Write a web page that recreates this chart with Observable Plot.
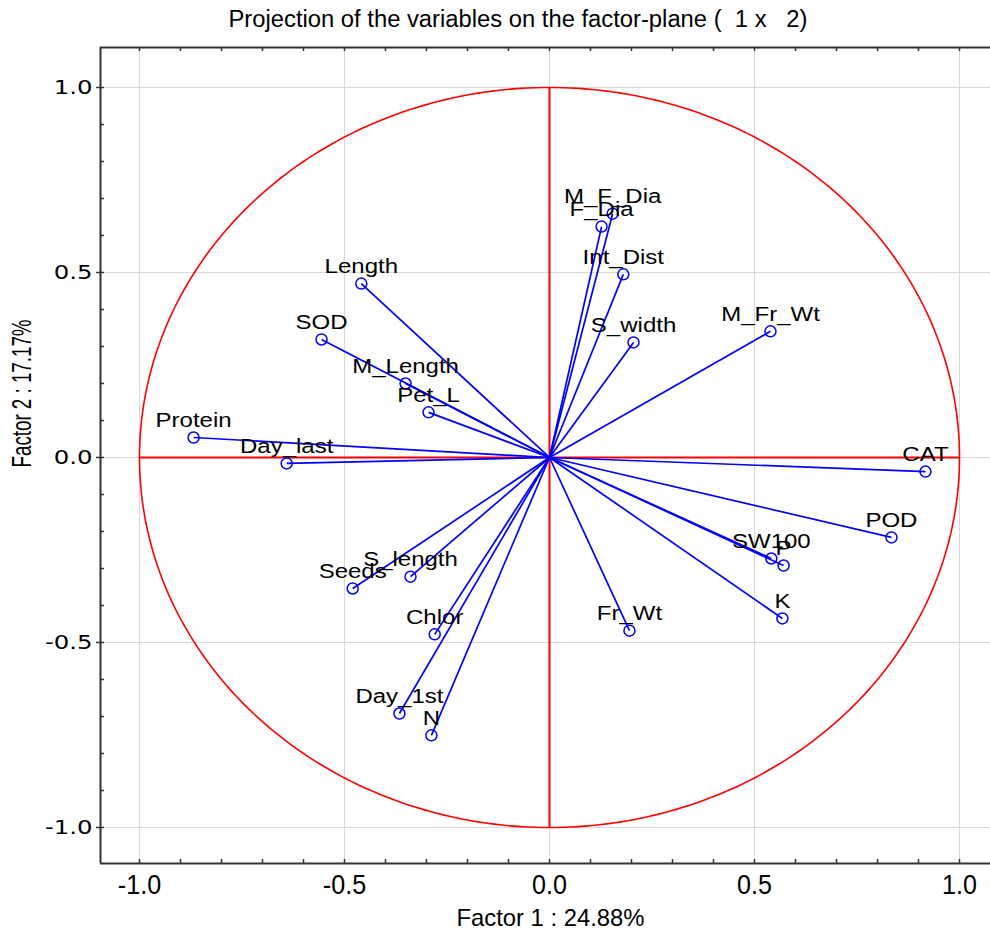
<!DOCTYPE html>
<html><head><meta charset="utf-8">
<script src="https://cdn.jsdelivr.net/npm/d3@7"></script>
<script src="https://cdn.jsdelivr.net/npm/@observablehq/plot@0.6"></script>
<style>
html,body{margin:0;padding:0;background:#fff;overflow:hidden;}
svg{display:block;}
</style></head><body>
<svg id="title" width="990" height="40"></svg>
<div id="chart"></div>
<script>
// ---- data ----
const variables = ["Protein","Day_last","Length","SOD","M_Length","Pet_L","M_F_Dia","F_Dia","Int_Dist","S_width","M_Fr_Wt","CAT","POD","SW100","P","K","Fr_Wt","S_length","Seeds","Chlor","Day_1st","N"];
const factor1 = [-0.868,-0.641,-0.459,-0.556,-0.351,-0.295,0.154,0.127,0.180,0.205,0.539,0.917,0.834,0.541,0.571,0.568,0.195,-0.339,-0.480,-0.280,-0.366,-0.288];
const factor2 = [0.054,-0.016,0.470,0.319,0.200,0.122,0.659,0.624,0.495,0.311,0.341,-0.038,-0.216,-0.273,-0.292,-0.435,-0.468,-0.322,-0.354,-0.478,-0.692,-0.751];
const majorTicks = [-1.0,-0.5,0.0,0.5,1.0];
const majorTickLabels = ["-1.0","-0.5","0.0","0.5","1.0"];
const minorTicks = [-1.0,-0.9,-0.8,-0.7,-0.6,-0.5,-0.4,-0.3,-0.2,-0.1,0.0,0.1,0.2,0.3,0.4,0.5,0.6,0.7,0.8,0.9,1.0];
const titleText = "Projection of the variables on the factor-plane (  1 x   2)";
const xLabel = "Factor 1 : 24.88%";
const yLabel = "Factor 2 : 17.17%";

// ---- layout ----
const W = 990, H = 891, mT = 7, mB = 68, mL = 100, mR = 0;
const frameW = W - mL - mR, frameH = H - mT - mB;
const xDomain = [-1.0951, 1.0756];
const yDomain = [-1.0973, 1.1081];

const rows = variables.map((v, i) => ({name: v, x: factor1[i], y: factor2[i]}));
const unitCircle = d3.range(0, 361, 1).map(a => ({x: Math.cos(a * Math.PI / 180), y: Math.sin(a * Math.PI / 180)}));

// title
const ts = d3.select("#title");
ts.append("text").attr("x", 518).attr("y", 27).attr("text-anchor", "middle")
  .attr("font-family", "Liberation Sans").attr("font-size", 23)
  .style("white-space", "pre").attr("textLength", 579).attr("lengthAdjust", "spacingAndGlyphs")
  .text(titleText);

const axisColor = "#333";
const plot = Plot.plot({
  width: W, height: H, marginTop: mT, marginBottom: mB, marginLeft: mL, marginRight: mR,
  x: {domain: xDomain, axis: null},
  y: {domain: yDomain, axis: null},
  style: {background: "white", overflow: "visible"},
  marks: [
    Plot.ruleX(majorTicks, {x: d => d, stroke: "#d8d8d8", strokeWidth: 1}),
    Plot.ruleY(majorTicks, {y: d => d, stroke: "#d8d8d8", strokeWidth: 1}),
    Plot.line(unitCircle, {x: "x", y: "y", stroke: "#ff0000", strokeWidth: 1.6}),
    Plot.ruleY([0], {y: d => d, x1: -1, x2: 1, stroke: "#ff0000", strokeWidth: 2}),
    Plot.ruleX([0], {x: d => d, y1: -1, y2: 1, stroke: "#ff0000", strokeWidth: 2}),
    Plot.link(rows, {x1: 0, y1: 0, x2: "x", y2: "y", stroke: "#0000ff", strokeWidth: 1.7}),
    Plot.dot(rows, {x: "x", y: "y", r: 5.5, stroke: "#0000ff", strokeWidth: 1.5, fill: "none"}),
    Plot.text(rows, {x: "x", y: "y", text: "name", dy: -17, fontSize: 20, fontFamily: "Liberation Sans", fill: "black"}),
    // frame (left, top, bottom)
    Plot.ruleX([xDomain[0]], {x: d => d, stroke: axisColor, strokeWidth: 2}),
    Plot.ruleY(yDomain, {y: d => d, stroke: axisColor, strokeWidth: 2}),
    // inner ticks
    Plot.ruleX(minorTicks, {x: d => d, insetTop: frameH - 4, stroke: axisColor, strokeWidth: 1.5}),
    Plot.ruleX(minorTicks, {x: d => d, insetBottom: frameH - 4, stroke: axisColor, strokeWidth: 1.5}),
    Plot.ruleY(minorTicks, {y: d => d, insetRight: frameW - 4, stroke: axisColor, strokeWidth: 1.5}),
    Plot.ruleY(majorTicks, {y: d => d, insetLeft: -4, insetRight: frameW, stroke: axisColor, strokeWidth: 1.5}),
    // tick labels
    Plot.text(majorTicks, {y: d => d, text: (d, i) => majorTickLabels[i], frameAnchor: "left", textAnchor: "end", dx: -8, fontSize: 20, fontFamily: "DejaVu Sans", fill: "black"}),
    Plot.text(majorTicks, {x: d => d, text: (d, i) => majorTickLabels[i], frameAnchor: "bottom", dy: 30, fontSize: 27, fontFamily: "Liberation Sans", fill: "black"}),
    // axis titles
    Plot.text([xLabel], {text: d => d, frameAnchor: "bottom", dx: 5, dy: 62, fontSize: 24, fontFamily: "Liberation Sans", fill: "black"}),
    Plot.text([yLabel], {text: d => d, frameAnchor: "left", rotate: -90, dx: -78, dy: 12, fontSize: 27, fontFamily: "Liberation Sans", fill: "black"})
  ]
});
document.getElementById("chart").append(plot);

function setLen(t, len) {
  t.setAttribute("textLength", len);
  t.setAttribute("lengthAdjust", "spacingAndGlyphs");
}
plot.querySelectorAll("text").forEach(t => {
  const s = t.textContent;
  const w = t.getComputedTextLength();
  if (!(w > 0)) return;
  if (variables.includes(s)) setLen(t, w * 1.2);
  else if (majorTickLabels.includes(s)) {
    const g = t.closest("g[text-anchor]");
    const anchor = g ? g.getAttribute("text-anchor") : t.getAttribute("text-anchor");
    if (anchor === "end") setLen(t, w * 1.22);
    else setLen(t, w * 0.93);
  }
  else if (s === xLabel) setLen(t, 188);
  else if (s === yLabel) setLen(t, 148);
});
</script>
</body></html>
